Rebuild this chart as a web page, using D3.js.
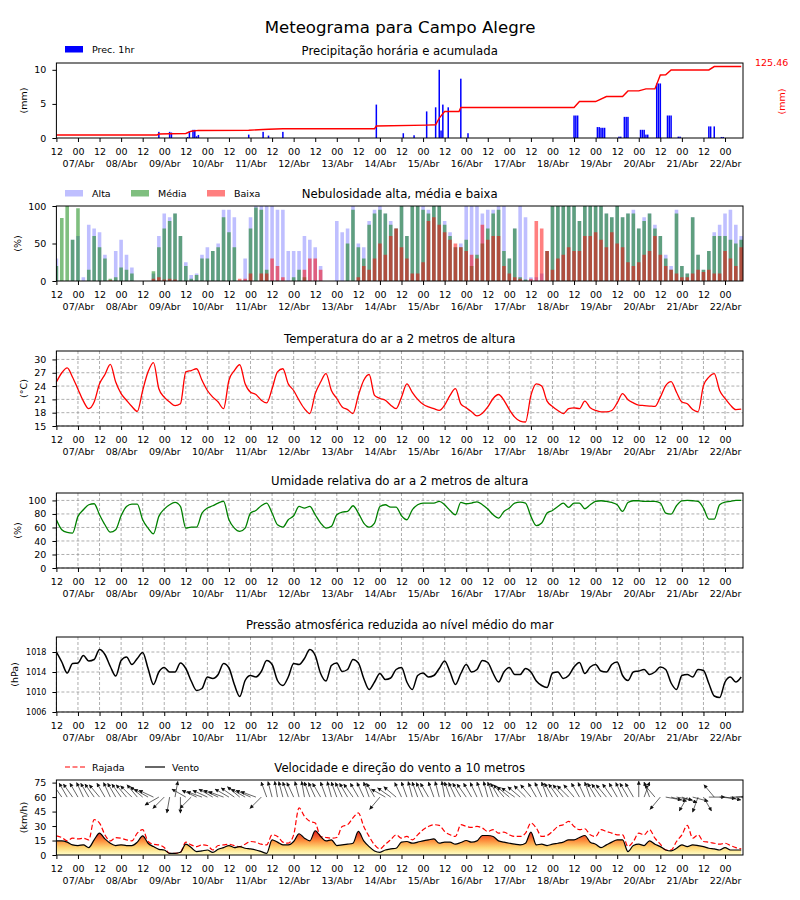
<!DOCTYPE html>
<html>
<head>
<meta charset="utf-8">
<script src="https://cdn.jsdelivr.net/npm/d3@7"></script>
<style>
  body { margin: 0; background: #fff; }
  text { font-family: "DejaVu Sans", sans-serif; }
</style>
</head>
<body>
<div id="chart"></div>
<script>
// ---- data (3-hourly from 06/Abr 12h, hourly for precipitation events) ----
const start = Date.UTC(2024, 3, 6, 12)
const hours = d3.range(0, 382, 3)

const precHours = [57, 63, 64, 73, 74, 76, 77, 78, 79, 107, 115, 118, 126, 178, 193, 199, 206, 211, 213, 214, 215, 218, 225, 229,
  288, 289, 290, 301, 302, 303, 304, 305, 313, 314, 316, 317, 318, 325, 326, 327, 328, 329, 334, 335, 336, 340, 341, 342,
  346, 347, 363, 364, 366, 370, 371]
const precValues = [0.9, 0.9, 0.8, 0.15, 1.0, 1.2, 1.2, 0.25, 0.45, 0.5, 0.9, 0.35, 0.9, 4.9, 0.7, 0.4, 3.9, 4.5, 10.0, 1.1, 4.9, 4.5, 8.7, 0.7,
  3.3, 3.3, 3.3, 1.6, 1.6, 1.5, 1.5, 1.5, 0.2, 0.2, 3.1, 3.1, 3.1, 1.2, 1.2, 1.2, 0.5, 0.5, 8.0, 8.0, 8.0, 3.3, 3.3, 3.3,
  0.2, 0.2, 1.7, 1.7, 1.7, 0.15, 0.15]

const accHours = [0, 56, 57, 63, 72, 75, 79, 107, 115, 118, 126, 177, 178, 206, 211, 213, 216, 224, 225, 288, 291, 300, 306,
  315, 318, 324, 328, 333, 336, 339, 342, 363, 366, 381]
const accValues = [5.2, 5.4, 7.0, 7.5, 7.9, 11.9, 13.3, 13.6, 14.9, 15.4, 16.3, 16.3, 21.0, 22.7, 23.3, 35.0, 46.5, 46.5, 53.5, 53.5,
  64.0, 64.0, 72.8, 72.8, 82.7, 82.7, 86.2, 86.2, 110.7, 111.2, 119.5, 119.5, 125.46, 125.46]
const accTotal = 125.46

const cloudHigh = [30, 0, 0, 55, 60, 5, 75, 70, 65, 35, 0, 40, 55, 35, 18, 0,
  0, 0, 10, 60, 90, 85, 90, 60, 25, 8, 10, 35, 45, 40, 50, 95,
  95, 85, 0, 30, 85, 100, 100, 100, 100, 95, 95, 40, 40, 40, 60, 55,
  45, 20, 0, 0, 80, 65, 70, 100, 50, 45, 80, 95, 100, 90, 80, 70,
  100, 60, 100, 100, 100, 95, 100, 100, 80, 65, 45, 50, 100, 100, 100, 90,
  95, 95, 100, 100, 30, 70, 100, 85, 5, 5, 10, 40, 100, 100, 100, 100,
  100, 80, 100, 100, 100, 100, 90, 85, 100, 85, 90, 95, 70, 85, 90, 75,
  60, 35, 20, 95, 20, 10, 85, 35, 15, 40, 65, 75, 90, 95, 75, 60]
const cloudMid = [20, 84, 100, 55, 97, 0, 15, 60, 45, 30, 3, 5, 18, 15, 10, 0,
  0, 0, 13, 45, 70, 80, 90, 60, 20, 3, 8, 30, 30, 40, 45, 85,
  65, 45, 0, 0, 70, 98, 95, 15, 0, 0, 0, 0, 5, 15, 5, 0,
  0, 0, 0, 0, 0, 0, 50, 95, 45, 30, 75, 90, 95, 90, 75, 70,
  100, 60, 100, 100, 95, 90, 100, 100, 75, 60, 45, 45, 55, 20, 35, 50,
  70, 90, 95, 40, 30, 70, 5, 2, 0, 0, 0, 40, 100, 100, 100, 100,
  100, 80, 100, 100, 100, 100, 90, 85, 100, 85, 90, 90, 70, 80, 90, 70,
  60, 30, 15, 90, 20, 10, 85, 35, 15, 40, 60, 60, 60, 55, 50, 55]
const cloudLow = [0, 0, 0, 0, 0, 0, 0, 0, 0, 0, 1, 0, 0, 0, 0, 0,
  0, 0, 3, 5, 2, 3, 2, 0, 0, 0, 0, 0, 0, 0, 0, 0,
  0, 0, 3, 3, 10, 0, 10, 10, 30, 20, 5, 0, 0, 0, 15, 30,
  30, 15, 0, 0, 0, 0, 0, 0, 5, 20, 15, 30, 50, 35, 60, 70,
  45, 30, 10, 10, 25, 80, 85, 75, 65, 55, 50, 45, 40, 35, 30, 75,
  55, 60, 60, 20, 10, 5, 3, 0, 3, 80, 70, 40, 15, 30, 35, 45,
  40, 40, 60, 60, 65, 55, 45, 65, 50, 45, 25, 20, 25, 35, 40, 60,
  35, 20, 15, 10, 5, 5, 10, 15, 12, 15, 10, 10, 40, 30, 20, 45]

const temperature = [24.9, 27.0, 28.1, 26.0, 23.3, 20.6, 18.9, 20.4, 24.5, 26.6, 28.9, 24.9, 22.3, 20.8, 19.4, 18.3,
  23.0, 27.2, 29.3, 23.4, 21.5, 20.4, 19.6, 20.0, 27.2, 27.5, 27.9, 25.3, 23.0, 21.5, 20.4, 18.9,
  25.3, 27.5, 28.8, 24.5, 22.6, 22.1, 20.8, 20.2, 23.4, 27.2, 27.9, 24.5, 23.0, 20.8, 18.9, 17.8,
  22.3, 24.9, 26.8, 23.0, 21.2, 19.3, 18.7, 17.8, 21.9, 25.3, 26.6, 21.9, 21.2, 20.8, 19.7, 18.9,
  21.5, 24.5, 22.6, 21.0, 19.9, 19.3, 18.9, 18.5, 19.7, 21.9, 23.4, 20.0, 19.1, 18.2, 17.3, 17.9,
  19.3, 21.2, 22.1, 20.8, 18.7, 17.0, 16.1, 15.9, 21.9, 24.5, 24.0, 20.6, 19.4, 18.5, 17.8, 18.9,
  19.1, 18.9, 20.6, 19.1, 18.5, 18.2, 18.2, 18.5, 20.2, 22.3, 20.9, 20.2, 19.7, 19.6, 19.5, 19.4,
  21.5, 24.1, 25.0, 22.6, 20.4, 20.0, 18.7, 18.2, 24.1, 26.0, 26.8, 23.0, 21.2, 19.7, 18.7, 18.8]

const humidity = [71.4, 56.7, 52.7, 51.7, 76.4, 86.2, 93.6, 95.1, 78.8, 64.0, 53.2, 56.7, 77.3, 91.1, 94.6, 94.6,
  71.4, 59.1, 50.7, 76.4, 87.2, 93.6, 97.0, 91.1, 59.1, 60.6, 60.6, 81.3, 88.7, 92.1, 96.1, 98.5,
  71.4, 59.1, 54.2, 59.1, 81.3, 85.2, 92.1, 96.1, 81.3, 64.0, 60.6, 71.4, 77.3, 91.1, 88.7, 91.1,
  78.8, 66.5, 59.1, 61.6, 78.8, 82.8, 83.7, 92.1, 81.3, 66.5, 60.6, 66.5, 91.1, 93.6, 90.1, 90.1,
  77.3, 71.4, 86.2, 93.6, 96.1, 96.1, 96.1, 98.5, 93.6, 85.2, 78.8, 97.0, 95.1, 96.1, 98.0, 93.6,
  87.2, 78.8, 73.9, 83.7, 88.7, 96.1, 97.5, 96.1, 76.4, 62.6, 66.5, 81.3, 85.2, 91.1, 96.1, 89.7,
  96.1, 96.1, 87.7, 93.6, 98.5, 99.5, 98.5, 97.0, 93.6, 83.7, 97.0, 99.5, 99.5, 98.5, 98.5, 98.5,
  96.1, 81.3, 79.8, 92.1, 99.5, 100, 99.5, 98.5, 88.7, 72.4, 72.4, 93.6, 97.5, 98.5, 100, 100]

const pressure = [1018.0, 1016.0, 1013.8, 1015.7, 1015.8, 1017.3, 1016.2, 1016.5, 1018.5, 1017.5, 1015.1, 1013.2, 1016.3, 1017.0, 1015.5, 1016.7,
  1017.9, 1014.7, 1011.5, 1014.0, 1014.9, 1014.0, 1014.0, 1015.8, 1014.7, 1012.2, 1010.3, 1010.7, 1013.0, 1012.7, 1013.5, 1015.7,
  1014.8, 1011.5, 1009.1, 1012.3, 1013.3, 1013.0, 1014.1, 1016.3, 1015.5, 1012.3, 1011.3, 1013.0, 1015.7, 1015.5, 1016.7, 1018.5,
  1017.3, 1013.7, 1012.2, 1015.3, 1015.8, 1014.1, 1014.5, 1016.5, 1015.8, 1012.7, 1010.5, 1012.0, 1013.7, 1012.5, 1012.8, 1014.5,
  1014.9, 1012.0, 1010.5, 1013.3, 1013.8, 1013.0, 1013.3, 1014.7, 1016.2, 1014.0, 1011.5, 1013.7, 1015.5, 1014.0, 1014.5, 1016.3,
  1015.9, 1013.7, 1012.0, 1014.0, 1014.9, 1013.5, 1013.5, 1014.7, 1014.0, 1012.2, 1011.3, 1010.9, 1013.8, 1014.0, 1012.7, 1013.3,
  1015.0, 1015.9, 1013.7, 1015.0, 1015.5, 1014.2, 1014.0, 1015.5, 1016.0, 1013.3, 1012.3, 1014.0, 1014.2, 1014.5, 1013.5, 1014.0,
  1015.0, 1014.5, 1011.8, 1010.5, 1013.3, 1013.5, 1013.0, 1014.5, 1014.3, 1011.7, 1009.2, 1008.9, 1012.0, 1013.0, 1012.0, 1013.0]

const wind = [14.6, 14.6, 13.3, 10.5, 9.8, 10.5, 7.7, 15.7, 22.7, 16.7, 12.2, 9.8, 10.5, 9.8, 9.8, 13.3,
  19.9, 12.2, 8.7, 5.9, 5.2, 1.7, 1.7, 2.8, 11.2, 7.7, 3.5, 4.2, 5.2, 2.8, 5.9, 7.7,
  9.8, 7.7, 8.7, 7.0, 6.3, 5.2, 3.5, 1.7, 15.7, 13.3, 10.5, 10.5, 14.0, 22.0, 17.4, 14.6,
  25.1, 19.2, 14.6, 15.7, 9.8, 10.5, 11.2, 12.2, 24.4, 14.6, 8.7, 4.2, 2.8, 5.2, 6.3, 7.0,
  13.3, 14.0, 12.2, 13.3, 14.6, 15.7, 16.7, 12.2, 13.3, 13.3, 11.2, 12.9, 15.0, 13.3, 14.6, 20.2,
  20.2, 19.2, 14.6, 13.3, 12.2, 11.2, 10.5, 12.2, 23.7, 10.5, 11.2, 9.8, 11.2, 12.2, 13.3, 15.7,
  15.7, 18.1, 20.2, 13.3, 11.2, 7.7, 10.5, 13.3, 15.7, 15.7, 3.5, 9.8, 11.2, 9.8, 14.6, 11.2,
  8.7, 5.2, 4.2, 7.0, 10.5, 8.7, 10.5, 9.8, 8.7, 7.0, 6.3, 5.2, 7.7, 5.2, 5.2, 5.2]

const gust = [19.9, 18.1, 14.6, 17.4, 16.7, 17.4, 15.7, 36.6, 33.1, 20.9, 14.6, 18.1, 17.4, 15.7, 14.6, 22.7,
  26.2, 14.0, 11.2, 10.5, 7.7, 1.7, 1.7, 2.8, 13.3, 10.5, 8.7, 10.5, 9.8, 5.2, 9.8, 10.5,
  11.2, 9.8, 8.7, 11.2, 14.0, 13.3, 11.2, 10.5, 20.9, 19.2, 13.3, 12.2, 20.9, 48.8, 40.1, 34.9,
  33.1, 19.2, 18.1, 17.4, 18.1, 29.6, 31.4, 38.4, 43.6, 29.6, 19.2, 10.5, 6.3, 11.2, 15.7, 20.9,
  17.4, 19.2, 15.7, 20.9, 26.2, 29.6, 31.4, 30.7, 24.4, 20.9, 19.2, 31.4, 29.6, 28.6, 29.6, 27.9,
  24.4, 26.2, 22.7, 23.7, 20.9, 19.2, 19.2, 22.7, 33.1, 27.9, 19.2, 20.2, 24.4, 29.6, 31.4, 34.9,
  29.6, 26.2, 27.2, 20.9, 19.2, 26.2, 24.4, 22.7, 20.9, 20.9, 8.7, 14.0, 22.7, 20.9, 26.2, 17.4,
  11.2, 5.2, 5.2, 14.0, 20.9, 30.7, 17.4, 20.9, 14.0, 13.3, 12.2, 11.2, 12.2, 9.8, 7.7, 6.3]

// wind direction (degrees, where the wind comes from)
const windDir = [140, 145, 150, 145, 150, 155, 150, 145, 140, 150, 155, 150, 145, 140, 135, 140, 130,
  120, 115, 60, 45, 10, 190, 0, 120, 45, 115,
  110, 115, 120, 115, 110, 120, 125, 130, 120, 115, 110, 45,
  160, 165, 170, 165, 160, 155, 165, 170, 160, 155, 150, 160, 165, 160, 155, 150, 145, 150, 155, 160, 150,
  40, 120, 125, 130,
  155, 160, 165, 160, 155, 150, 160, 165, 170, 160, 155, 150, 145, 150, 155, 160, 165, 160, 150, 140, 130,
  125, 130, 135, 140, 150, 155, 160, 150, 145, 140, 135, 140, 150, 155, 160, 150, 145, 140, 145, 150, 155, 150,
  150, 180, 200, 160, 140, 40,
  280, 285, 280, 290, 30, 285, 20,
  330, 270, 140, 275, 280, 270, 265, 270]

const meses = ['Jan', 'Fev', 'Mar', 'Abr', 'Mai', 'Jun', 'Jul', 'Ago', 'Set', 'Out', 'Nov', 'Dez']

// ---- layout ----
const width = 800, height = 900
const left = 56.4, right = 743, ph = 75
const tops = [63, 206, 351, 493, 637, 780]

const svg = d3.select('#chart').append('svg')
  .attr('width', width).attr('height', height)

const t = h => new Date(start + h * 3600 * 1000)
const x = d3.scaleTime().domain([t(0), t(382)]).range([left, right])
const tickHours = d3.range(0, 382, 12)
const curve = d3.curveMonotoneX

const defs = svg.append('defs')

function setupPanel(i, ydomain, yticks, opts) {
  const top = tops[i]
  const y = d3.scaleLinear().domain(ydomain).range([top + ph, top])
  const g = svg.append('g')
  defs.append('clipPath').attr('id', 'clip' + i)
    .append('rect').attr('x', left).attr('y', top).attr('width', right - left).attr('height', ph)

  if (opts.grid) {
    g.selectAll('.vg').data(tickHours).enter().append('line')
      .attr('x1', d => x(t(d))).attr('x2', d => x(t(d)))
      .attr('y1', top).attr('y2', top + ph)
      .attr('stroke', '#999').attr('stroke-width', 0.8).attr('stroke-dasharray', '3,2')
    g.selectAll('.hg').data(yticks).enter().append('line')
      .attr('x1', left).attr('x2', right)
      .attr('y1', d => y(d)).attr('y2', d => y(d))
      .attr('stroke', '#999').attr('stroke-width', 0.8).attr('stroke-dasharray', '3,2')
  }

  const plot = g.append('g').attr('clip-path', `url(#clip${i})`)

  // title
  svg.append('text').attr('x', (left + right) / 2).attr('y', top - 8)
    .attr('text-anchor', 'middle').attr('font-size', 11.7).text(opts.title)

  // y label
  svg.append('text')
    .attr('transform', `translate(${opts.ylabX},${top + ph / 2}) rotate(-90)`)
    .attr('text-anchor', 'middle').attr('dy', '0.35em').attr('font-size', 9.5)
    .text(opts.ylabel)

  return { plot, y, top, yticks, fs: opts.tickFont || 9.5 }
}

function finishPanel(p) {
  svg.append('rect').attr('x', left).attr('y', p.top).attr('width', right - left).attr('height', ph)
    .attr('fill', 'none').attr('stroke', '#000').attr('stroke-width', 1)

  const ay = svg.append('g').attr('transform', `translate(${left},0)`)
    .call(d3.axisLeft(p.y).tickValues(p.yticks).tickFormat(d3.format('d')).tickSize(4).tickPadding(6))
  ay.select('.domain').remove()
  ay.attr('font-family', 'DejaVu Sans').attr('font-size', p.fs)
  ay.selectAll('.tick line').attr('stroke', '#000')
  ay.selectAll('.tick text').attr('fill', '#000')

  const ax = svg.append('g').attr('transform', `translate(0,${p.top + ph})`)
    .call(d3.axisBottom(x).tickValues(tickHours.map(t)).tickSize(4))
  ax.select('.domain').remove()
  ax.attr('font-family', 'DejaVu Sans').attr('font-size', 9.5)
  ax.selectAll('.tick line').attr('stroke', '#000')
  ax.selectAll('.tick text').remove()
  ax.selectAll('.tick').each(function (d) {
    const tx = d3.select(this).append('text').attr('fill', '#000').attr('text-anchor', 'middle')
    tx.append('tspan').attr('x', 0).attr('y', 17).text(d3.utcFormat('%H')(d))
    if (d.getUTCHours() === 0) {
      tx.append('tspan').attr('x', 0).attr('y', 28.5)
        .text(d3.utcFormat('%d')(d) + '/' + meses[d.getUTCMonth()])
    }
  })
}

// main title
svg.append('text').attr('x', 400).attr('y', 33).attr('text-anchor', 'middle')
  .attr('font-size', 16.6).text('Meteograma para Campo Alegre')

// ---- 1: precipitation ----
const p1 = setupPanel(0, [0, 11], [0, 5, 10], { title: 'Precipitação horária e acumulada', ylabel: '(mm)', ylabX: 24 })
const yAcc = d3.scaleLinear().domain([0, accTotal * 1.05]).range([p1.top + ph, p1.top])

p1.plot.selectAll('.pbar').data(precHours).enter().append('rect')
  .attr('x', (d) => x(t(d - 0.42)))
  .attr('width', d => x(t(d + 0.42)) - x(t(d - 0.42)))
  .attr('y', (d, i) => p1.y(precValues[i]))
  .attr('height', (d, i) => p1.y(0) - p1.y(precValues[i]))
  .attr('fill', 'blue')

p1.plot.append('path')
  .datum(accHours)
  .attr('d', d3.line().x(d => x(t(d))).y((d, i) => yAcc(accValues[i])))
  .attr('fill', 'none').attr('stroke', 'red').attr('stroke-width', 1.4)

finishPanel(p1)

svg.append('text').attr('x', 755).attr('y', 66).attr('font-size', 9.5).attr('fill', 'red')
  .text(accTotal.toFixed(2))
svg.append('text').attr('transform', `translate(782,${p1.top + ph / 2 + 1}) rotate(-90)`)
  .attr('text-anchor', 'middle').attr('dy', '0.35em').attr('font-size', 9.5).attr('fill', 'red').text('(mm)')

// legend
svg.append('rect').attr('x', 65).attr('y', 46).attr('width', 18).attr('height', 6.5).attr('fill', 'blue')
svg.append('text').attr('x', 92).attr('y', 53).attr('font-size', 9.5).text('Prec. 1hr')

// ---- 2: clouds ----
const p2 = setupPanel(1, [0, 100], [0, 50, 100], { title: 'Nebulosidade alta, média e baixa', ylabel: '(%)', ylabX: 18 })
const cloudLayers = [
  { name: 'Alta', values: cloudHigh, color: 'rgba(0,0,255,0.25)' },
  { name: 'Média', values: cloudMid, color: 'rgba(0,128,0,0.5)' },
  { name: 'Baixa', values: cloudLow, color: 'rgba(255,0,0,0.5)' }
]
cloudLayers.forEach(layer => {
  p2.plot.append('g').selectAll('rect').data(hours).enter().append('rect')
    .attr('x', d => x(t(d - 1.0)))
    .attr('width', d => x(t(d + 1.0)) - x(t(d - 1.0)))
    .attr('y', (d, i) => p2.y(layer.values[i]))
    .attr('height', (d, i) => p2.y(0) - p2.y(layer.values[i]))
    .attr('fill', layer.color)
})
finishPanel(p2)
const legX = [65, 131, 207]
cloudLayers.forEach((layer, i) => {
  svg.append('rect').attr('x', legX[i]).attr('y', 190).attr('width', 18).attr('height', 6.5).attr('fill', layer.color)
  svg.append('text').attr('x', legX[i] + 27).attr('y', 197).attr('font-size', 9.5).text(layer.name)
})

// ---- 3: temperature ----
const p3 = setupPanel(2, [15, 31.9], [15, 18, 21, 24, 27, 30], { title: 'Temperatura do ar a 2 metros de altura', ylabel: '(°C)', ylabX: 24, grid: true })
p3.plot.append('path').datum(hours)
  .attr('d', d3.line().curve(curve).x(d => x(t(d))).y((d, i) => p3.y(temperature[i])))
  .attr('fill', 'none').attr('stroke', 'red').attr('stroke-width', 1.3)
finishPanel(p3)

// ---- 4: humidity ----
const p4 = setupPanel(3, [0, 111], [0, 20, 40, 60, 80, 100], { title: 'Umidade relativa do ar a 2 metros de altura', ylabel: '(%)', ylabX: 18, grid: true })
p4.plot.append('path').datum(hours)
  .attr('d', d3.line().curve(curve).x(d => x(t(d))).y((d, i) => p4.y(humidity[i])))
  .attr('fill', 'none').attr('stroke', 'green').attr('stroke-width', 1.3)
finishPanel(p4)

// ---- 5: pressure ----
const p5 = setupPanel(4, [1006, 1021], [1006, 1010, 1014, 1018], { title: 'Pressão atmosférica reduzida ao nível médio do mar', ylabel: '(hPa)', ylabX: 15, grid: true, tickFont: 8 })
p5.plot.append('path').datum(hours)
  .attr('d', d3.line().curve(curve).x(d => x(t(d))).y((d, i) => p5.y(pressure[i])))
  .attr('fill', 'none').attr('stroke', '#000').attr('stroke-width', 1.5)
finishPanel(p5)

// ---- 6: wind ----
const p6 = setupPanel(5, [0, 77.7], [0, 15, 30, 45, 60, 75], { title: 'Velocidade e direção do vento a 10 metros', ylabel: '(km/h)', ylabX: 24 })
const grad = defs.append('linearGradient').attr('id', 'windFill')
  .attr('gradientUnits', 'userSpaceOnUse')
  .attr('x1', 0).attr('x2', 0).attr('y1', p6.y(0)).attr('y2', p6.y(25))
grad.append('stop').attr('offset', 0).attr('stop-color', '#ffffcc')
grad.append('stop').attr('offset', 0.3).attr('stop-color', '#fed976')
grad.append('stop').attr('offset', 0.6).attr('stop-color', '#fd8d3c')
grad.append('stop').attr('offset', 1).attr('stop-color', '#e31a1c')

p6.plot.append('path').datum(hours)
  .attr('d', d3.area().curve(curve).x(d => x(t(d))).y0(p6.y(0)).y1((d, i) => p6.y(wind[i])))
  .attr('fill', 'url(#windFill)')
p6.plot.append('path').datum(hours)
  .attr('d', d3.line().curve(curve).x(d => x(t(d))).y((d, i) => p6.y(gust[i])))
  .attr('fill', 'none').attr('stroke', 'red').attr('stroke-width', 1.2).attr('stroke-dasharray', '5,2.5')
p6.plot.append('path').datum(hours)
  .attr('d', d3.line().curve(curve).x(d => x(t(d))).y((d, i) => p6.y(wind[i])))
  .attr('fill', 'none').attr('stroke', '#000').attr('stroke-width', 1.2)

// direction arrows
defs.append('marker').attr('id', 'head').attr('viewBox', '0 0 10 10')
  .attr('refX', 9).attr('refY', 5).attr('markerWidth', 5).attr('markerHeight', 4)
  .attr('markerUnits', 'userSpaceOnUse').attr('orient', 'auto')
  .append('path').attr('d', 'M0,0L10,5L0,10Z').attr('fill', '#111')
const arrowLen = 16
p6.plot.append('g').selectAll('line').data(hours).enter().append('line')
  .attr('x1', d => x(t(d)))
  .attr('y1', p6.y(60))
  .attr('x2', (d, i) => x(t(d)) + Math.sin((windDir[i] + 180) * Math.PI / 180) * arrowLen)
  .attr('y2', (d, i) => p6.y(60) - Math.cos((windDir[i] + 180) * Math.PI / 180) * arrowLen)
  .attr('stroke', '#222').attr('stroke-width', 0.7).attr('marker-end', 'url(#head)')
finishPanel(p6)

// legend
svg.append('line').attr('x1', 65).attr('x2', 85).attr('y1', 767).attr('y2', 767)
  .attr('stroke', 'red').attr('stroke-width', 1.2).attr('stroke-dasharray', '5,2.5')
svg.append('text').attr('x', 92).attr('y', 770.5).attr('font-size', 9.5).text('Rajada')
svg.append('line').attr('x1', 145).attr('x2', 165).attr('y1', 767).attr('y2', 767)
  .attr('stroke', '#000').attr('stroke-width', 1.2)
svg.append('text').attr('x', 172).attr('y', 770.5).attr('font-size', 9.5).text('Vento')
</script>
</body>
</html>
